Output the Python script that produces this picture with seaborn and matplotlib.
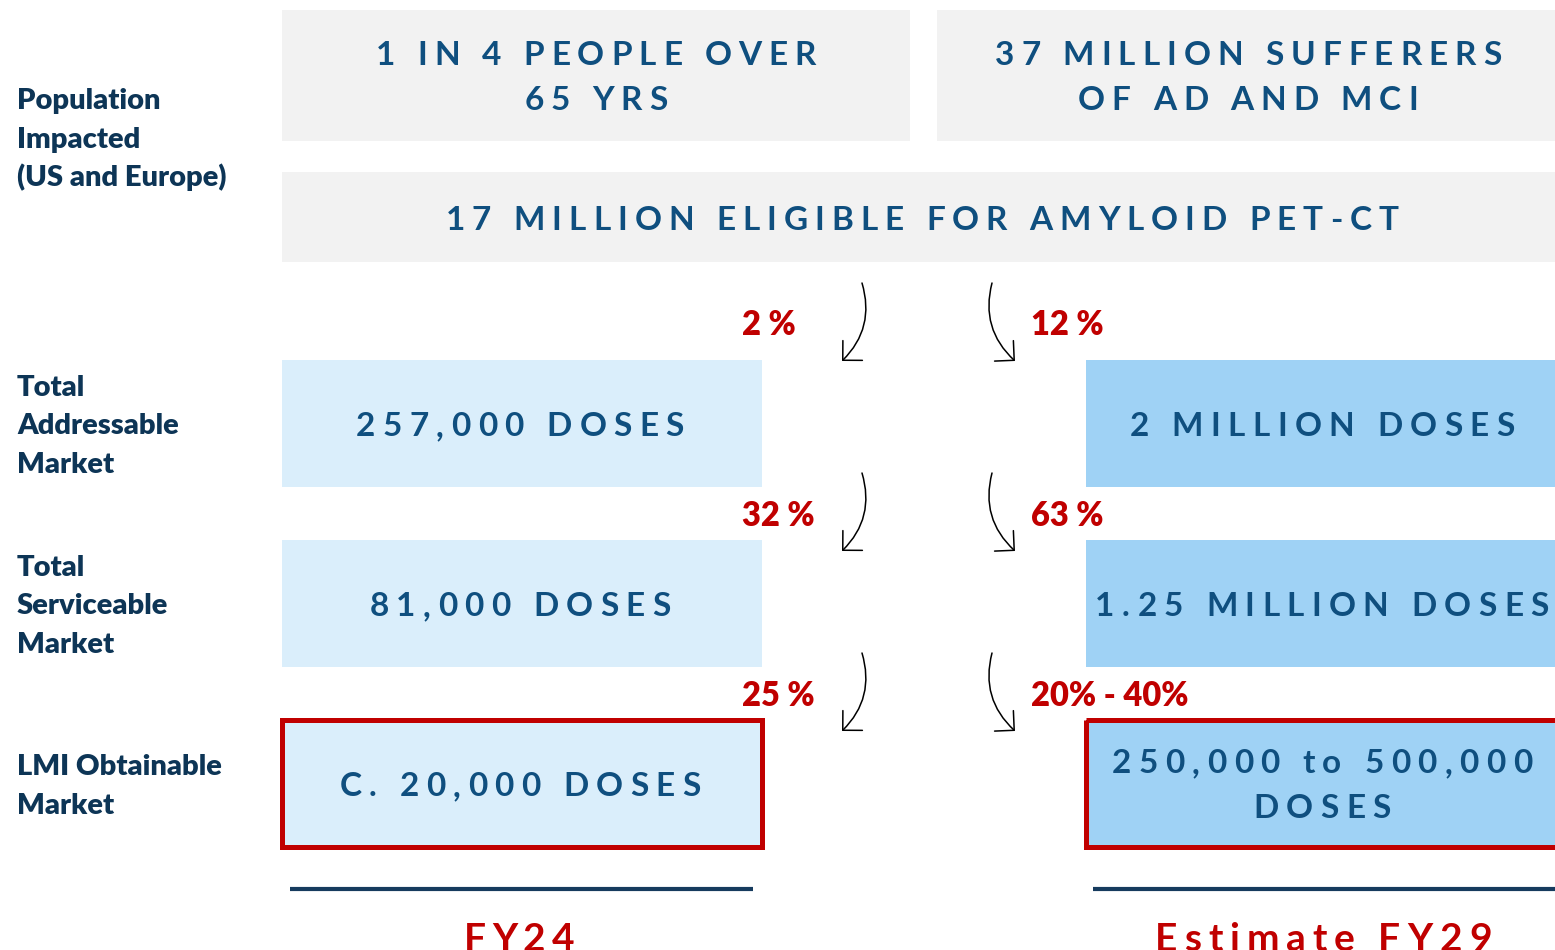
import numpy as np
import matplotlib.pyplot as plt
import seaborn as sns
from matplotlib.patches import Rectangle, FancyArrowPatch
from matplotlib.font_manager import FontProperties
from matplotlib.textpath import TextToPath

# --- content ---
row_labels = ["Population\nImpacted\n(US and Europe)", "Total\nAddressable\nMarket",
              "Total\nServiceable\nMarket", "LMI Obtainable\nMarket"]
top_facts = ["1 IN 4 PEOPLE OVER\n65 YRS", "37 MILLION SUFFERERS\nOF AD AND MCI"]
eligible = "17 MILLION ELIGIBLE FOR AMYLOID PET-CT"
fy24_doses = ["257,000 DOSES", "81,000 DOSES", "C. 20,000 DOSES"]
fy29_doses = ["2 MILLION DOSES", "1.25 MILLION DOSES", "250,000 to 500,000\nDOSES"]
fy24_rates = ["2 %", "32 %", "25 %"]
fy29_rates = ["12 %", "63 %", "20% - 40%"]
periods = ["FY24", "Estimate FY29"]

# --- style ---
NAVY = '#0d3556'
TEXT_BLUE = '#0f4f7f'
RED = '#c00000'
GREY = '#f2f2f2'
LIGHT = '#daeefb'
MID = '#9fd2f5'
LINE = '#163b5e'
FONT = 'Lato'
WEIGHT = 'heavy'
PX = 100 / 72      # pixels per point
CAP = 0.7165       # cap height of Lato, in em

sns.set_theme(style='white')
plt.rcParams['font.family'] = [FONT, 'DejaVu Sans']

fig = plt.figure(figsize=(15.55, 9.5), dpi=100)
ax = fig.add_axes([0, 0, 1, 1])
ax.set_xlim(0, 1555)
ax.set_ylim(950, 0)
ax.axis('off')

t2p = TextToPath()


def advance(ch, fp):
    w1 = t2p.get_text_width_height_descent('H' + ch + 'H', fp, ismath=False)[0]
    w0 = t2p.get_text_width_height_descent('HH', fp, ismath=False)[0]
    return (w1 - w0) * PX


def tracked(xc, base, s, size, color, track):
    # letter-spaced text, centred on xc, sitting on baseline `base`
    fp = FontProperties(family=FONT, weight='bold', size=size)
    ws = [advance(c, fp) for c in s]
    gap = track * size * PX
    x = xc - (sum(ws) + gap * (len(s) - 1)) / 2
    for c, w in zip(s, ws):
        if c != ' ':
            ax.text(x, base, c, fontproperties=fp, color=color, ha='left', va='baseline')
        x += w + gap


def block(xc, yc, s, size, color, track, spacing):
    lines = s.split('\n')
    for i, ln in enumerate(lines):
        base = yc + CAP * size * PX / 2 + (i - (len(lines) - 1) / 2) * spacing
        tracked(xc, base, ln, size, color, track)


def box(x0, y0, x1, y1, color, edge=None):
    ax.add_patch(Rectangle((x0, y0), x1 - x0, y1 - y0, facecolor=color, edgecolor='none'))
    if edge:
        ax.add_patch(Rectangle((x0, y0), x1 - x0, y1 - y0, facecolor='none',
                               edgecolor=edge, lw=3.6, clip_on=False))


# row labels on the left
label_centers = [138, 424.5, 604.5, 784.5]
for lab, yc in zip(row_labels, label_centers):
    lines = lab.split('\n')
    for i, ln in enumerate(lines):
        base = yc + CAP * 20 * PX / 2 + (i - (len(lines) - 1) / 2) * 38.5
        ax.text(17, base, ln, fontsize=21, fontweight=WEIGHT, color=NAVY,
                ha='left', va='baseline')

# population boxes
box(282, 10, 910, 141, GREY)
box(937, 10, 1560, 141, GREY)
block(596, 76, top_facts[0], 24, TEXT_BLUE, 0.21, 45)
block(1248, 76, top_facts[1], 24, TEXT_BLUE, 0.21, 45)
box(282, 172, 1560, 262, GREY)
block(922, 218, eligible, 24, TEXT_BLUE, 0.21, 45)

# market rows
row_tops = [360, 540, 720]
row_h = 127
for i, top in enumerate(row_tops):
    edge = RED if i == 2 else None
    box(282, top, 762, top + row_h, LIGHT, edge)
    box(1086, top, 1560, top + row_h, MID, edge)
    yc = top + row_h / 2 + 0.5
    block(520, yc, fy24_doses[i], 24, TEXT_BLUE, 0.22, 45)
    block(1322, yc, fy29_doses[i], 24, TEXT_BLUE, 0.22, 45)

# conversion rates and arrows
arrow_tops = [283, 473, 653]
rate_bases = [335, 526, 706]
for i, (ya, yb) in enumerate(zip(arrow_tops, rate_bases)):
    ax.text(742, yb, fy24_rates[i], fontsize=23.5, fontweight=WEIGHT, color=RED,
            ha='left', va='baseline')
    ax.text(1031, yb, fy29_rates[i], fontsize=23.5, fontweight=WEIGHT, color=RED,
            ha='left', va='baseline')
    for (xa, xb, rad) in [(862, 842, -0.3), (992, 1015, 0.3)]:
        ax.add_patch(FancyArrowPatch((xa, ya), (xb, ya + 78),
                                     connectionstyle=f'arc3,rad={rad}',
                                     arrowstyle='->,head_length=1,head_width=1',
                                     mutation_scale=10, lw=1.1, color='black',
                                     shrinkA=0, shrinkB=0))

# period footers
ax.plot([290, 753], [889, 889], color=LINE, lw=3, solid_capstyle='butt')
ax.plot([1093, 1560], [889, 889], color=LINE, lw=3, solid_capstyle='butt')
tracked(519, 951, periods[0], 28, RED, 0.15)
tracked(1323, 951, periods[1], 28, RED, 0.18)

fig.savefig('out.png', dpi=100)
